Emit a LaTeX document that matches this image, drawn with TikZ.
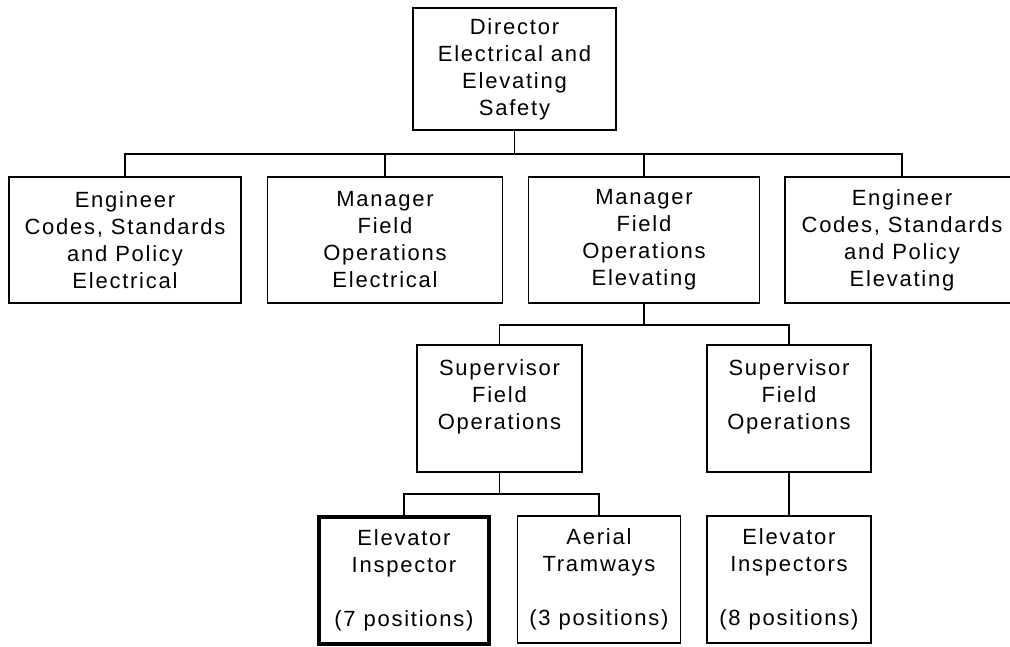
\documentclass[tikz,border=0pt]{standalone}
\usepackage{fontspec}
\usetikzlibrary{positioning}
\newfontfamily\chartFont[LetterSpace=8]{Liberation Sans}
\tikzstyle{chart} = [x = 1pt, y = -1pt]
\tikzstyle{boxStyle} = [draw=black, line width=1.5pt, fill=white, inner sep=0pt, align=center, font=\chartFont\fontsize{22}{27}\selectfont]
\tikzstyle{highlightBox} = [boxStyle, line width=4.5pt]
\tikzstyle{linkLine} = [color=black, line width=1.8pt]
\newcommand{\orgBox}[6]{\node [#1, minimum width=#4pt, minimum height=#5pt] (#2) at (#3) {#6};}

\begin{document}
\begin{tikzpicture}[chart]
  \useasboundingbox (0,0) rectangle (1010,646);
  \orgBox{boxStyle}{director}{514.5,69}{203}{122}{Director\\Electrical and\\Elevating\\Safety}
  \orgBox{boxStyle}{engElectrical}{125,240}{232}{126}{Engineer\\Codes, Standards\\and Policy\\Electrical}
  \orgBox{boxStyle}{mgrElectrical}{385,240}{235}{126}{Manager\\Field\\Operations\\Electrical}
  \orgBox{boxStyle}{mgrElevating}{644,240}{231}{126}{Manager\\Field\\Operations\\Elevating}
  \orgBox{boxStyle}{engElevating}{902,240}{234}{126}{Engineer\\Codes, Standards\\and Policy\\Elevating}
  \orgBox{boxStyle}{supLeft}{499.5,408.5}{165}{127}{Supervisor\\Field\\Operations\\~}
  \orgBox{boxStyle}{supRight}{789,408.5}{164}{127}{Supervisor\\Field\\Operations\\~}
  \orgBox{highlightBox}{inspector}{404,580.5}{170}{127}{Elevator\\Inspector\\~\\(7 positions)}
  \orgBox{boxStyle}{tramways}{599,579.5}{163}{127}{Aerial\\Tramways\\~\\(3 positions)}
  \orgBox{boxStyle}{inspectors}{789,579.5}{164}{127}{Elevator\\Inspectors\\~\\(8 positions)}

  \coordinate (busTop) at (0,154);
  \coordinate (busMid) at (0,325);
  \coordinate (busLow) at (0,494);

  \draw [linkLine] (director.south) -- (director.south |- busTop);
  \draw [linkLine] (engElectrical.north) -- (engElectrical.north |- busTop) -- (engElevating.north |- busTop) -- (engElevating.north);
  \draw [linkLine] (mgrElectrical.north) -- (mgrElectrical.north |- busTop);
  \draw [linkLine] (mgrElevating.north) -- (mgrElevating.north |- busTop);

  \draw [linkLine] (mgrElevating.south) -- (mgrElevating.south |- busMid);
  \draw [linkLine] (supLeft.north) -- (supLeft.north |- busMid) -- (supRight.north |- busMid) -- (supRight.north);

  \draw [linkLine] (supLeft.south) -- (supLeft.south |- busLow);
  \draw [linkLine] (inspector.north) -- (inspector.north |- busLow) -- (tramways.north |- busLow) -- (tramways.north);
  \draw [linkLine] (supRight.south) -- (inspectors.north);
\end{tikzpicture}
\end{document}
